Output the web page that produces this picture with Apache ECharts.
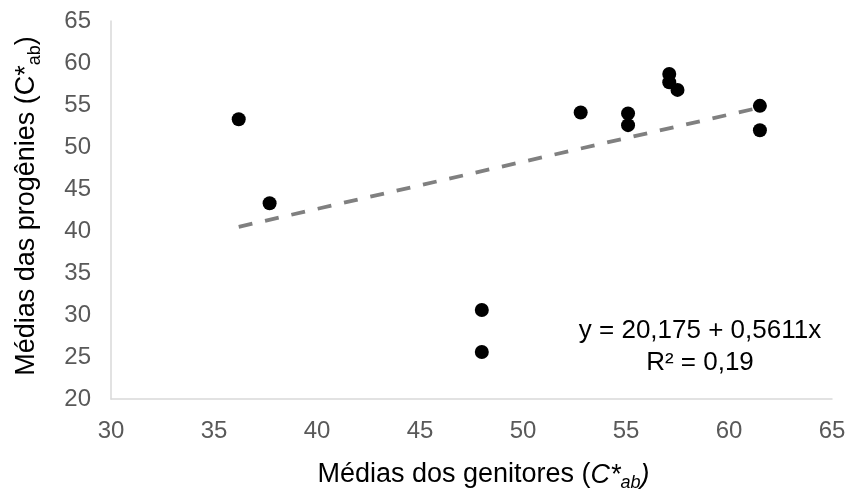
<!DOCTYPE html>
<html>
<head>
<meta charset="utf-8">
<script src="https://cdn.jsdelivr.net/npm/echarts@6/dist/echarts.min.js"></script>
<style>html,body{margin:0;padding:0;background:#fff}#c{width:851px;height:497px}</style>
</head>
<body>
<div id="c"></div>
<script>
// Data
var parentMeans = [36.2, 37.7, 52.8, 55.1, 55.1, 57.1, 57.1, 57.5, 61.5, 61.5, 48.0, 48.0];
var progenyMeans = [53.3, 43.3, 54.1, 54.0, 52.6, 58.7, 57.7, 56.8, 54.9, 52.0, 30.6, 25.6];
var trendX = [36.2, 61.5];
var trendY = [40.5, 54.7];
var xTicks = [30, 35, 40, 45, 50, 55, 60, 65];
var yTicks = [20, 25, 30, 35, 40, 45, 50, 55, 60, 65];
var equationLines = ['y = 20,175 + 0,5611x', 'R² = 0,19'];

var points = parentMeans.map(function (x, i) { return [x, progenyMeans[i]]; });
var trend = trendX.map(function (x, i) { return [x, trendY[i]]; });

var FONT = '"Liberation Sans", Arial, sans-serif';
var nameRich = {
  n: { fontSize: 27, color: '#000', fontFamily: FONT, lineHeight: 34 },
  i: { fontSize: 27, color: '#000', fontFamily: FONT, fontStyle: 'italic', lineHeight: 34 },
  s: { fontSize: 18, color: '#000', fontFamily: FONT, fontStyle: 'italic', lineHeight: 34, verticalAlign: 'bottom', padding: [12, 0, 0, 0] },
  su: { fontSize: 18, color: '#000', fontFamily: FONT, lineHeight: 34, verticalAlign: 'bottom', padding: [12, 0, 0, 0] }
};

var chart = echarts.init(document.getElementById('c'));
chart.setOption({
  animation: false,
  grid: { left: 111, right: 19, top: 21, bottom: 94, containLabel: false },
  xAxis: {
    type: 'value', min: xTicks[0], max: xTicks[xTicks.length - 1], interval: 5,
    axisLine: { show: true, lineStyle: { color: '#d9d9d9', width: 1.5 } },
    axisTick: { show: false }, splitLine: { show: false },
    axisLabel: { color: '#595959', fontSize: 24, fontFamily: FONT, margin: 20 },
    name: '{n|Médias dos genitores (}{i|C*}{s|ab}{i|)}',
    nameLocation: 'middle', nameGap: 59,
    nameTextStyle: { rich: nameRich, padding: [0, 0, 0, 24] }
  },
  yAxis: {
    type: 'value', min: yTicks[0], max: yTicks[yTicks.length - 1], interval: 5,
    axisLine: { show: true, lineStyle: { color: '#d9d9d9', width: 1.5 } },
    axisTick: { show: false }, splitLine: { show: false },
    axisLabel: { color: '#595959', fontSize: 24, fontFamily: FONT, margin: 20 },
    name: '{n|Médias das progênies (C*}{su|ab}{n|)}',
    nameLocation: 'middle', nameGap: 67, nameRotate: 90,
    nameTextStyle: { rich: nameRich, padding: [0, 0, 0, 8] }
  },
  series: [
    {
      type: 'scatter', data: points, symbol: 'circle', symbolSize: 14,
      itemStyle: { color: '#000', opacity: 1 }, z: 2
    },
    {
      type: 'line', data: trend, showSymbol: false, symbol: 'none',
      lineStyle: { color: '#808080', width: 3.8, type: [14, 13] }, z: 3
    }
  ],
  graphic: [
    {
      type: 'text', x: 700, y: 315,
      style: {
        text: equationLines.join('\n'), fill: '#000', fontSize: 26, fontFamily: FONT,
        align: 'center', verticalAlign: 'top', lineHeight: 32
      }
    }
  ]
});
</script>
</body>
</html>
